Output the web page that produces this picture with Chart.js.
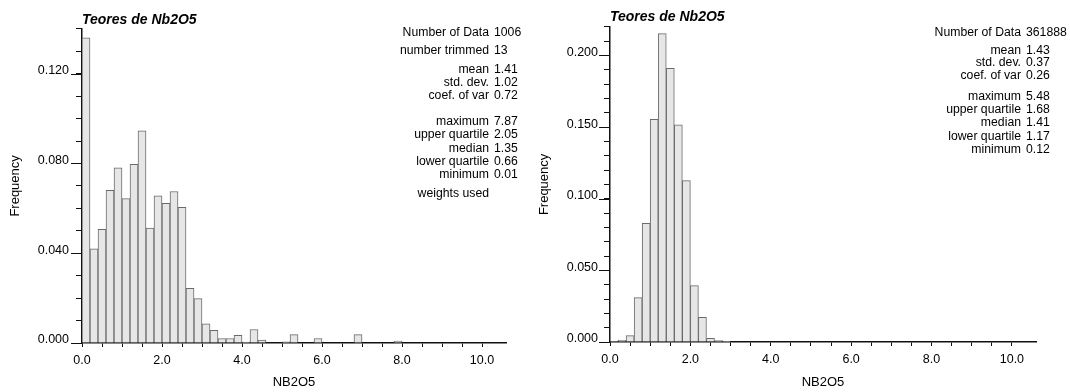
<!DOCTYPE html>
<html>
<head>
<meta charset="utf-8">
<script src="https://cdn.jsdelivr.net/npm/chart.js@4"></script>
<style>
  body { margin: 0; background: #fff; }
  .row { display: flex; width: 1070px; height: 392px; }
  canvas { display: block; }
</style>
</head>
<body>
<div class="row">
  <canvas id="left-chart" width="535" height="392"></canvas>
  <canvas id="right-chart" width="535" height="392"></canvas>
</div>
<script>
// bin centres (NB2O5, class width 0.2)
const leftBins = [0.1, 0.3, 0.5, 0.7, 0.9, 1.1, 1.3, 1.5, 1.7, 1.9,
  2.1, 2.3, 2.5, 2.7, 2.9, 3.1, 3.3, 3.5, 3.7, 3.9,
  4.1, 4.3, 4.5, 4.7, 4.9, 5.1, 5.3, 5.5, 5.7, 5.9,
  6.1, 6.3, 6.5, 6.7, 6.9, 7.1, 7.3, 7.5, 7.7, 7.9];
const leftFreq = [0.136, 0.042, 0.0506, 0.068, 0.078, 0.0643, 0.0796, 0.0945, 0.0512, 0.0656,
  0.0622, 0.0675, 0.0605, 0.0244, 0.0198, 0.0085, 0.0056, 0.002, 0.002, 0.0034,
  0.0004, 0.006, 0.0013, 0, 0, 0.0005, 0.0037, 0, 0, 0.002,
  0, 0, 0, 0, 0.0037, 0, 0, 0, 0, 0.0008];

const rightBins = [0.1, 0.3, 0.5, 0.7, 0.9, 1.1, 1.3, 1.5, 1.7, 1.9, 2.1, 2.3, 2.5, 2.7, 2.9];
const rightFreq = [0.0003, 0.0012, 0.0045, 0.031, 0.0828, 0.1555, 0.2152, 0.191, 0.1515, 0.1126,
  0.0394, 0.0173, 0.0026, 0.001, 0.0005];

// summary statistics
const leftStatNames = ['Number of Data', 'number trimmed', 'mean', 'std. dev.', 'coef. of var',
  'maximum', 'upper quartile', 'median', 'lower quartile', 'minimum', 'weights used'];
const leftStatValues = ['1006', '13', '1.41', '1.02', '0.72', '7.87', '2.05', '1.35', '0.66', '0.01', ''];
const rightStatNames = ['Number of Data', 'mean', 'std. dev.', 'coef. of var',
  'maximum', 'upper quartile', 'median', 'lower quartile', 'minimum'];
const rightStatValues = ['361888', '1.43', '0.37', '0.26', '5.48', '1.68', '1.41', '1.17', '0.12'];

const xTicksMax = 10.6;

Chart.defaults.font.family = "'Liberation Sans', Arial, sans-serif";
Chart.defaults.color = '#000';

// statistics block drawn next to the histogram
const statsBlock = {
  id: 'statsBlock',
  afterDraw(chart, args, opts) {
    const ctx = chart.ctx;
    const sx = opts.stretch;
    ctx.save();
    ctx.font = opts.font;
    ctx.fillStyle = '#000';
    ctx.textBaseline = 'middle';
    opts.names.forEach((name, i) => {
      ctx.save();
      ctx.translate(opts.labelX, opts.rowY[i]);
      ctx.scale(sx, 1);
      ctx.textAlign = 'right';
      ctx.fillText(name, 0, 0);
      ctx.restore();
      ctx.save();
      ctx.translate(opts.valueX, opts.rowY[i]);
      ctx.scale(sx, 1);
      ctx.textAlign = 'left';
      ctx.fillText(opts.values[i], 0, 0);
      ctx.restore();
    });
    ctx.restore();
  }
};

// longer tick marks where the y axis has a label
const majorTicks = {
  id: 'majorTicks',
  afterDraw(chart, args, opts) {
    const y = chart.scales.y;
    const ctx = chart.ctx;
    ctx.save();
    ctx.strokeStyle = '#111';
    ctx.lineWidth = 1;
    y.ticks.forEach(t => {
      if (!t.label) return;
      const py = Math.round(y.getPixelForValue(t.value)) + 0.5;
      ctx.beginPath();
      ctx.moveTo(y.right - opts.length, py);
      ctx.lineTo(y.right, py);
      ctx.stroke();
    });
    ctx.restore();
  }
};

function isStep(v, step) {
  const r = v / step;
  return Math.abs(r - Math.round(r)) < 1e-6;
}

function makeHistogram(canvas, bins, freq, cfg) {
  return new Chart(canvas, {
    type: 'bar',
    data: {
      datasets: [{
        data: bins.map((b, i) => ({ x: b, y: freq[i] })),
        backgroundColor: '#e6e6e6',
        borderColor: '#6a6a6a',
        borderWidth: 1,
        barPercentage: 1,
        categoryPercentage: 1
      }]
    },
    options: {
      responsive: false,
      animation: false,
      layout: { padding: { left: 0, right: cfg.padRight, top: 0, bottom: 0 } },
      plugins: {
        legend: { display: false },
        tooltip: { enabled: false },
        title: {
          display: true,
          text: 'Teores de Nb2O5',
          align: 'start',
          fullSize: false,
          font: { size: 14, weight: 'bold', style: 'italic' },
          padding: { top: cfg.titleTop, bottom: cfg.titleBottom }
        },
        statsBlock: cfg.stats,
        majorTicks: { length: 11 }
      },
      scales: {
        x: {
          type: 'linear',
          offset: false,
          min: 0,
          max: xTicksMax,
          afterBuildTicks: s => { s.ticks = s.ticks.filter(t => isStep(t.value, 0.5)); },
          afterFit: s => { s.height = cfg.xHeight; },
          border: { color: '#111', width: 1.5 },
          grid: { drawOnChartArea: false, offset: false, color: '#111', tickLength: 4 },
          ticks: {
            stepSize: 0.5,
            autoSkip: false,
            maxRotation: 0,
            padding: 6,
            font: { size: 12.5 },
            callback: v => isStep(v, 2) ? v.toFixed(1) : ''
          },
          title: {
            display: true,
            text: 'NB2O5',
            font: { size: 13 },
            padding: { top: 4, bottom: 2 }
          }
        },
        y: {
          min: 0,
          max: cfg.yMax,
          afterFit: s => { s.width = cfg.yWidth; },
          border: { color: '#111', width: 1.5 },
          grid: { drawOnChartArea: false, color: '#111', tickLength: 6 },
          ticks: {
            stepSize: 0.01,
            autoSkip: false,
            padding: cfg.yLabelPad,
            labelOffset: -3,
            font: { size: 12.5 },
            callback: v => isStep(v, cfg.yLabelStep) ? v.toFixed(3) : ''
          },
          title: {
            display: true,
            text: 'Frequency',
            font: { size: 13 },
            padding: { top: cfg.yTitlePad, bottom: 0 }
          }
        }
      }
    },
    plugins: [statsBlock, majorTicks]
  });
}

const statsFont = '12px "Liberation Sans", Arial, sans-serif';

makeHistogram(document.getElementById('left-chart'), leftBins, leftFreq, {
  yMax: 0.14,
  yLabelStep: 0.04,
  yWidth: 82,
  yLabelPad: 7,
  yTitlePad: 8,
  xHeight: 49,
  padRight: 29,
  titleTop: 12,
  titleBottom: 0,
  stats: {
    names: leftStatNames,
    values: leftStatValues,
    font: statsFont,
    stretch: 1.02,
    labelX: 489,
    valueX: 494,
    rowY: [33, 51, 69.5, 82.5, 95.5, 122, 135, 148.5, 161.5, 175, 194]
  }
});

makeHistogram(document.getElementById('right-chart'), rightBins, rightFreq, {
  yMax: 0.22,
  yLabelStep: 0.05,
  yWidth: 75,
  yLabelPad: 6,
  yTitlePad: 2,
  xHeight: 50,
  padRight: 34,
  titleTop: 9,
  titleBottom: 1,
  stats: {
    names: rightStatNames,
    values: rightStatValues,
    font: statsFont,
    stretch: 1.02,
    labelX: 486,
    valueX: 491,
    rowY: [33, 50.5, 63, 76, 96.5, 110, 123, 136.5, 150]
  }
});
</script>
</body>
</html>
